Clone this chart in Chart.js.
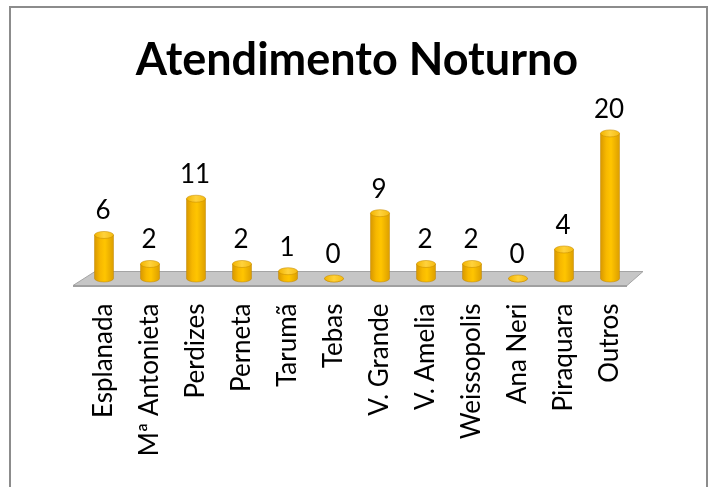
<!DOCTYPE html>
<html>
<head>
<meta charset="utf-8">
<script src="https://cdn.jsdelivr.net/npm/chart.js@4/dist/chart.umd.min.js"></script>
<style>
  html, body { margin: 0; padding: 0; background: #fff; }
  #wrap { position: relative; width: 710px; height: 487px; overflow: hidden; }
  #barChart { position: absolute; left: 0; top: 0; }
  #frame { position: absolute; left: 9px; top: 6px; width: 699px; height: 520px;
           border: 2px solid #8c8c8c; box-sizing: border-box; pointer-events: none; }
</style>
</head>
<body>
<div id="wrap">
  <canvas id="barChart" width="710" height="487" style="width:710px;height:487px"></canvas>
  <div id="frame"></div>
</div>
<script>
var categories = ['Esplanada', 'Mª Antonieta', 'Perdizes', 'Perneta', 'Tarumã', 'Tebas',
                  'V. Grande', 'V. Amelia', 'Weissopolis', 'Ana Neri', 'Piraquara', 'Outros'];
var atendimentos = [6, 2, 11, 2, 1, 0, 9, 2, 2, 0, 4, 20];
var yMax = 24;

// grey floor the cylinders stand on
var floorPlugin = {
    id: 'floor',
    beforeDatasetsDraw: function(chart) {
        var c = chart.ctx, a = chart.chartArea;
        var y0 = chart.scales.y.getPixelForValue(0);
        c.save();
        c.beginPath();
        c.moveTo(a.left - 8, y0 + 7);
        c.lineTo(a.left + 14, y0 - 7);
        c.lineTo(a.right + 10, y0 - 7);
        c.lineTo(a.right - 6, y0 + 7);
        c.closePath();
        c.fillStyle = '#c6c6c6';
        c.fill();
        c.strokeStyle = '#a4a4a4';
        c.lineWidth = 1;
        c.stroke();
        c.fillStyle = '#a0a0a0';
        c.fillRect(a.left - 8, y0 + 6.5, a.right - a.left + 2, 2);
        c.restore();
    }
};

// cylinders + value labels, drawn on top of the bar elements
var cylinderPlugin = {
    id: 'cylinders',
    afterDatasetsDraw: function(chart) {
        var c = chart.ctx;
        var values = chart.data.datasets[0].data;
        chart.getDatasetMeta(0).data.forEach(function(bar, i) {
            var x = bar.x, top = bar.y, base = bar.base;
            var rx = bar.width / 2, ry = 3.5;
            c.save();

            var body = c.createLinearGradient(x - rx, 0, x + rx, 0);
            body.addColorStop(0, '#d89800');
            body.addColorStop(0.3, '#f7b800');
            body.addColorStop(0.55, '#ffc500');
            body.addColorStop(1, '#dd9f00');
            c.beginPath();
            c.moveTo(x - rx, top);
            c.lineTo(x - rx, base);
            c.ellipse(x, base, rx, ry, 0, Math.PI, 0, true);
            c.lineTo(x + rx, top);
            c.closePath();
            c.fillStyle = body;
            c.fill();
            c.strokeStyle = 'rgba(190,130,0,0.6)';
            c.lineWidth = 0.8;
            c.stroke();

            var cap = c.createLinearGradient(x - rx, 0, x + rx, 0);
            cap.addColorStop(0, '#f2b400');
            cap.addColorStop(0.5, '#ffd23c');
            cap.addColorStop(1, '#f5bb10');
            c.beginPath();
            c.ellipse(x, top, rx, ry, 0, 0, Math.PI * 2);
            c.fillStyle = cap;
            c.fill();
            c.strokeStyle = 'rgba(200,140,0,0.7)';
            c.stroke();

            c.fillStyle = '#000';
            c.font = '26px Lato';
            c.textAlign = 'center';
            c.textBaseline = 'middle';
            c.fillText(String(values[i]), x - 1, top - 24);
            c.restore();
        });
    }
};

var ctx = document.getElementById('barChart').getContext('2d');
var barChart = new Chart(ctx, {
    type: 'bar',
    data: {
        labels: categories,
        datasets: [{
            label: 'Atendimento Noturno',
            data: atendimentos,
            backgroundColor: 'rgba(0,0,0,0)',
            borderWidth: 0,
            barThickness: 19
        }]
    },
    options: {
        responsive: false,
        animation: false,
        layout: { padding: { left: 81, right: 77, top: 0, bottom: 0 } },
        plugins: {
            legend: { display: false },
            tooltip: { enabled: false },
            title: {
                display: true,
                text: 'Atendimento Noturno',
                color: '#000',
                font: { family: 'Lato', size: 45, weight: 'bold', lineHeight: 1.2 },
                padding: { top: 33, bottom: 17.4 }
            }
        },
        scales: {
            x: {
                grid: { display: false, drawTicks: false },
                border: { display: false },
                ticks: {
                    color: '#000',
                    font: { family: 'Lato', size: 26 },
                    minRotation: 90,
                    maxRotation: 90,
                    autoSkip: false,
                    padding: 25
                },
                afterFit: function(scale) { scale.height = 208.5; }
            },
            y: { display: false, min: 0, max: yMax }
        }
    },
    plugins: [floorPlugin, cylinderPlugin]
});
</script>
</body>
</html>
